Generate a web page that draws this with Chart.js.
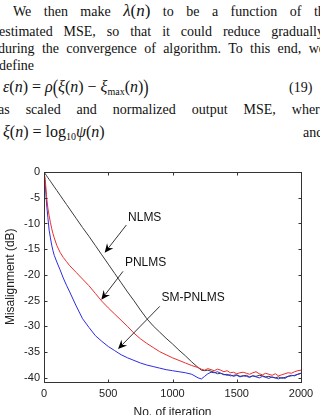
<!DOCTYPE html>
<html>
<head>
<meta charset="utf-8">
<script src="https://cdn.jsdelivr.net/npm/chart.js"></script>
<style>
  html, body { margin: 0; padding: 0; width: 320px; height: 415px; overflow: hidden; background: #fff; }
  .ln { position: absolute; font-family: "Liberation Serif", "Times New Roman", serif; font-size: 14px;
        color: #111; white-space: nowrap; line-height: 16px; height: 16px; }
  .j { white-space: normal; text-align: justify; text-align-last: justify; overflow: hidden; }
  .m { font-style: italic; font-size: 16px; }
  .u { font-style: normal; font-size: 16px; }
  .big { display: inline-block; transform: scaleY(1.35); font-style: normal; font-size: 16px; }
  sub { font-size: 10px; font-style: normal; vertical-align: -3px; line-height: 0; }
  #wrap { position: absolute; left: 0; top: 150px; width: 320px; height: 270px; }
</style>
</head>
<body>

<div class="ln j" style="left:13px; top:3px; width:318px;">We then make <span class="m" style="font-size:17px">λ</span><span class="u" style="font-size:17px">(</span><span class="m" style="font-size:17px">n</span><span class="u" style="font-size:17px">)</span> to be a function of the</div>
<div class="ln j" style="left:-1px; top:24px; width:325px;">estimated MSE, so that it could reduce gradually</div>
<div class="ln j" style="left:-2px; top:41px; width:327px;">during the convergence of algorithm. To this end, we</div>
<div class="ln" style="left:-1px; top:58px;">define</div>
<div class="ln" style="left:3px; top:79px;"><span class="m">ε</span><span class="u">(</span><span class="m">n</span><span class="u">) = </span><span class="m">ρ</span><span class="big">(</span><span class="m">ξ</span><span class="u">(</span><span class="m">n</span><span class="u">) − </span><span class="m">ξ</span><sub>max</sub><span class="u">(</span><span class="m">n</span><span class="u">)</span><span class="big">)</span></div>
<div class="ln" style="left:289px; top:80px;">(19)</div>
<div class="ln j" style="left:-2px; top:102px; width:328px;">as scaled and normalized output MSE, where</div>
<div class="ln" style="left:3px; top:124px;"><span class="m">ξ</span><span class="u">(</span><span class="m">n</span><span class="u">) = log</span><sub>10</sub><span class="m">ψ</span><span class="u">(</span><span class="m">n</span><span class="u">)</span></div>
<div class="ln" style="left:303px; top:125px;">and</div>

<div id="wrap"><canvas id="cv" width="320" height="270"></canvas></div>

<script>
// ---- data ----
const iterations = [0, 10, 20, 30, 40, 50, 60, 70, 80, 100, 125, 150, 175, 200,
  250, 300, 350, 400, 450, 500, 550, 600, 650, 700, 750, 800, 850, 900, 950, 1000,
  1050, 1100, 1150, 1200,
  1225, 1250, 1275, 1300, 1325, 1350, 1375, 1400, 1425, 1450, 1475, 1500, 1525, 1550,
  1575, 1600, 1625, 1650, 1675, 1700, 1725, 1750, 1775, 1800, 1825, 1850, 1875, 1900,
  1925, 1950, 1975, 2000];

const nlms = [0, -0.36, -0.72, -1.08, -1.44, -1.8, -2.16, -2.52, -2.88, -3.6, -4.5, -5.4, -6.3, -7.2,
  -9.0, -10.8, -12.5, -14.3, -16.1, -17.9, -19.7, -21.5, -23.3, -25.0, -26.8, -28.5, -29.9, -31.1, -32.3, -33.4,
  -34.6, -35.7, -36.9, -38.0,
  -38.5, -38.6, -38.5, -38.7, -38.9, -39.2, -39.1, -39.4, -39.3, -39.6, -39.5, -39.4, -39.7, -39.6,
  -39.5, -39.8, -39.6, -39.7, -39.5, -39.6, -39.8, -39.7, -39.9, -40.0, -39.8, -40.1, -39.9, -39.7,
  -39.6, -39.5, -39.3, -39.1];

const pnlms = [0, -1.5, -4.8, -7.0, -8.5, -9.8, -11.0, -12.0, -12.8, -14.3, -15.6, -16.6, -17.4, -18.2,
  -19.5, -20.8, -22.1, -23.6, -25.1, -26.4, -27.6, -28.8, -30.0, -31.3, -32.4, -33.3, -34.1, -34.9, -35.5, -36.1,
  -36.6, -37.1, -37.6, -38.0,
  -38.3, -38.5, -38.2, -38.4, -38.6, -38.3, -38.5, -38.8, -38.6, -39.0, -38.9, -39.2, -39.0, -38.9,
  -39.1, -39.3, -39.0, -38.8, -39.2, -39.4, -39.1, -39.3, -39.5, -39.2, -39.6, -39.4, -39.2, -39.0,
  -39.1, -38.8, -38.6, -38.5];

const smpnlms = [0, -2.5, -6.2, -8.8, -11.3, -12.8, -14.2, -15.3, -16.2, -17.5, -19.0, -20.6, -22.0, -23.3,
  -26.0, -28.5, -30.2, -31.8, -32.9, -33.9, -34.7, -35.5, -36.1, -36.6, -37.1, -37.5, -37.8, -38.1, -38.4, -38.6,
  -38.8, -39.0, -39.3, -40.0,
  -40.2, -39.7, -39.2, -38.9, -39.0, -38.8, -39.1, -39.3, -39.5, -39.4, -39.7, -39.5, -39.8, -39.6,
  -39.7, -39.9, -39.6, -39.8, -40.0, -39.7, -39.9, -40.1, -39.8, -40.0, -40.2, -39.9, -40.1, -39.7,
  -39.5, -39.6, -39.3, -39.1];

const xTicks = [0, 500, 1000, 1500, 2000];
const yTicks = [0, -5, -10, -15, -20, -25, -30, -35, -40];

// labels with arrows (in data units)
const annLabels = ['NLMS', 'PNLMS', 'SM-PNLMS'];
const annTextX = [654, 630, 914];
const annTextY = [-8.9, -17.7, -24.5];
const annFromX = [641, 615, 901];
const annFromY = [-10.3, -19.3, -26.1];
const annTipX = [472, 446, 576];
const annTipY = [-15.7, -24.8, -34.4];

const FONT = '"Liberation Sans", Arial, sans-serif';
Chart.defaults.font.family = FONT;

const pts = arr => arr.map((v, i) => ({ x: iterations[i], y: v }));

// MATLAB-like box with inward ticks, plus text arrows
const framePlugin = {
  id: 'frame',
  afterDatasetsDraw(chart) {
    const { ctx, chartArea: a, scales: { x, y } } = chart;
    ctx.save();
    ctx.strokeStyle = '#333';
    ctx.lineWidth = 1;
    const L = Math.round(a.left) + 0.5, R = Math.round(a.right) + 0.5;
    const T = Math.round(a.top) + 0.5, B = Math.round(a.bottom) + 0.5;
    ctx.strokeRect(L, T, R - L, B - T);
    ctx.beginPath();
    xTicks.forEach(v => {
      const px = Math.round(x.getPixelForValue(v)) + 0.5;
      ctx.moveTo(px, B); ctx.lineTo(px, B - 3);
      ctx.moveTo(px, T); ctx.lineTo(px, T + 3);
    });
    yTicks.forEach(v => {
      const py = Math.round(y.getPixelForValue(v)) + 0.5;
      ctx.moveTo(L, py); ctx.lineTo(L + 3, py);
      ctx.moveTo(R, py); ctx.lineTo(R - 3, py);
    });
    ctx.stroke();

    // annotations
    ctx.font = '12px ' + FONT;
    ctx.textBaseline = 'middle';
    ctx.textAlign = 'left';
    annLabels.forEach((t, i) => {
      ctx.fillStyle = '#111';
      ctx.fillText(t, x.getPixelForValue(annTextX[i]), y.getPixelForValue(annTextY[i]));
      const x0 = x.getPixelForValue(annFromX[i]), y0 = y.getPixelForValue(annFromY[i]);
      const x1 = x.getPixelForValue(annTipX[i]), y1 = y.getPixelForValue(annTipY[i]);
      const ang = Math.atan2(y1 - y0, x1 - x0);
      const len = 9, hw = 4, notch = 6;
      ctx.strokeStyle = '#333';
      ctx.beginPath();
      ctx.moveTo(x0, y0);
      ctx.lineTo(x1 - Math.cos(ang) * notch, y1 - Math.sin(ang) * notch);
      ctx.stroke();
      const bx = x1 - Math.cos(ang) * len, by = y1 - Math.sin(ang) * len;
      const nx = -Math.sin(ang), ny = Math.cos(ang);
      ctx.beginPath();
      ctx.moveTo(x1, y1);
      ctx.lineTo(bx + nx * hw, by + ny * hw);
      ctx.lineTo(x1 - Math.cos(ang) * notch, y1 - Math.sin(ang) * notch);
      ctx.lineTo(bx - nx * hw, by - ny * hw);
      ctx.closePath();
      ctx.fillStyle = '#000';
      ctx.fill();
    });
    ctx.restore();
  }
};

new Chart(document.getElementById('cv'), {
  type: 'line',
  data: {
    datasets: [
      { label: 'PNLMS', data: pts(pnlms), borderColor: 'rgb(235,45,45)' },
      { label: 'SM-PNLMS', data: pts(smpnlms), borderColor: 'rgb(45,45,225)' },
      { label: 'NLMS', data: pts(nlms), borderColor: '#3a3a3a' }
    ]
  },
  options: {
    responsive: false,
    animation: false,
    devicePixelRatio: 1,
    datasets: { line: { borderWidth: 1, pointRadius: 0, tension: 0, fill: false } },
    layout: { padding: { top: 22, right: 19, left: 0, bottom: 0 } },
    plugins: { legend: { display: false }, tooltip: { enabled: false } },
    scales: {
      x: {
        type: 'linear', min: 0, max: 2000,
        afterBuildTicks: s => { s.ticks = xTicks.map(v => ({ value: v })); },
        afterFit: s => { s.height = 38.5; },
        grid: { display: false, drawTicks: false },
        border: { display: false },
        ticks: { color: '#222', font: { size: 11 }, padding: 6, maxRotation: 0, callback: v => String(v) },
        title: { display: true, text: 'No. of iteration', color: '#222', font: { size: 12 }, padding: { top: 0, bottom: 0 } }
      },
      y: {
        type: 'linear', min: -40.7, max: 0,
        afterBuildTicks: s => { s.ticks = yTicks.map(v => ({ value: v })); },
        afterFit: s => { s.width = 44; },
        grid: { display: false, drawTicks: false },
        border: { display: false },
        ticks: { color: '#222', font: { size: 11 }, padding: 4, callback: v => String(v) },
        title: { display: true, text: 'Misalignment (dB)', color: '#222', font: { size: 12 }, padding: { top: 3, bottom: 3 } }
      }
    }
  },
  plugins: [framePlugin]
});
</script>
</body>
</html>
